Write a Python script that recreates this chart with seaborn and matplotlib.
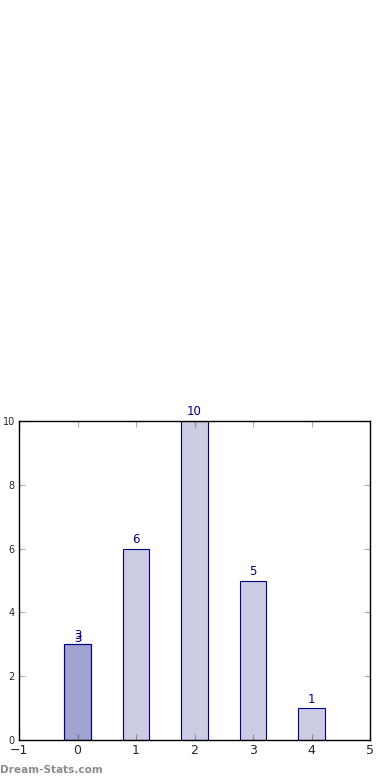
import matplotlib
matplotlib.use("Agg")
import matplotlib.pyplot as plt
import seaborn as sns
import pandas as pd

positions = [0, 1, 2, 3, 4]
counts = [3, 6, 10, 5, 1]
extra_positions = [0]
extra_counts = [3]
x_ticks = [-1, 0, 1, 2, 3, 4, 5]
y_ticks = [0, 2, 4, 6, 8, 10]

sns.set_style("white")
plt.rcParams['font.family'] = ['DejaVu Sans']

fig = plt.figure(figsize=(3.9, 7.8), dpi=100)
ax = fig.add_axes([19/390, 1-740/780, 351/390, 319/780])

df1 = pd.DataFrame({"x": positions, "y": counts})
df2 = pd.DataFrame({"x": extra_positions, "y": extra_counts})
sns.barplot(data=df1, x="x", y="y", native_scale=True, width=0.45,
            color="navy", saturation=1, ax=ax, errorbar=None)
sns.barplot(data=df2, x="x", y="y", native_scale=True, width=0.45,
            color="navy", saturation=1, ax=ax, errorbar=None)
for p in ax.patches:
    p.set_facecolor((0, 0, 0.5, 0.2))
    p.set_edgecolor("navy")
    p.set_linewidth(0.8)

for xv, yv in zip(positions, counts):
    ax.text(xv, yv + 0.08, str(yv), ha="center", va="bottom", color="navy", fontsize=8.5)
for xv, yv in zip(extra_positions, extra_counts):
    ax.text(xv, yv - 0.02, str(yv), ha="center", va="bottom", color="navy", fontsize=8.5)

ax.set_xlim(-1, 5)
ax.set_ylim(0, 10)
ax.set_xticks(x_ticks)
ax.set_xticklabels(["\u22121", "0", "1", "2", "3", "4", "5"], fontsize=9)
ax.set_yticks(y_ticks)
ax.set_yticklabels([str(v) for v in y_ticks], fontsize=7)
ax.set_xlabel("")
ax.set_ylabel("")
ax.tick_params(direction="in", length=4, color="#aaaaaa", top=True, right=True,
               bottom=True, left=True, pad=3)
for s in ax.spines.values():
    s.set_color("black")
    s.set_linewidth(1)
ax.grid(False)

fig.text(0.0, 1 - 773/780, "Dream-Stats.com", color="#8c8c8c", fontsize=7.6,
         fontweight="semibold", ha="left", va="baseline")

fig.savefig("out.png", dpi=100)
